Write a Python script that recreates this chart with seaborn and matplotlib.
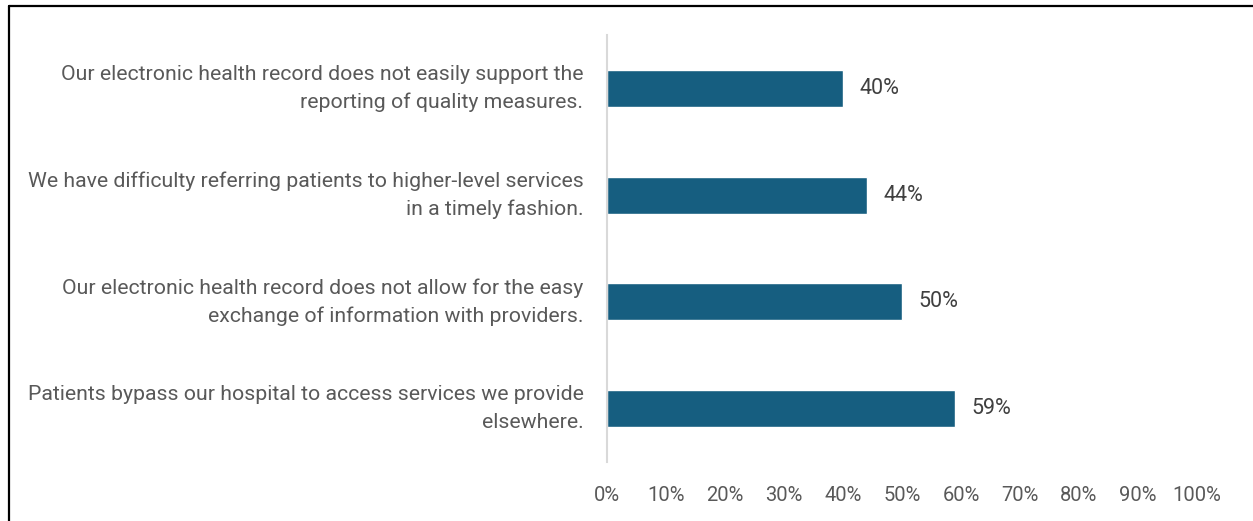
import matplotlib
matplotlib.use("Agg")
import matplotlib.pyplot as plt
from matplotlib.lines import Line2D
import seaborn as sns
import pandas as pd

categories = [
    "Our electronic health record does not easily support the\nreporting of quality measures.",
    "We have difficulty referring patients to higher-level services\nin a timely fashion.",
    "Our electronic health record does not allow for the easy\nexchange of information with providers.",
    "Patients bypass our hospital to access services we provide\nelsewhere.",
]
values = [40, 44, 50, 59]
xticks = [0, 10, 20, 30, 40, 50, 60, 70, 80, 90, 100]

BAR_COLOR = "#165E80"
LABEL_GRAY = "#595959"
VALUE_GRAY = "#404040"

sns.set_theme(style="white")
plt.rcParams["font.family"] = ["Roboto", "DejaVu Sans"]

W, H = 1253, 521
fig = plt.figure(figsize=(W / 100, H / 100), dpi=100)
ax = fig.add_axes([607 / W, 1 - 462 / H, (1197 - 607) / W, (462 - 35) / H])

df = pd.DataFrame({"category": categories, "value": values})
sns.barplot(data=df, x="value", y="category", orient="h", color=BAR_COLOR,
            width=0.345, saturation=1, ax=ax)

ax.set_xlim(0, 100)
ax.set_xticks(xticks)
ax.set_xticklabels([f"{t}%" for t in xticks], color=LABEL_GRAY, fontsize=14.5)
ax.set_xlabel("")
ax.set_ylabel("")
ax.tick_params(axis="y", length=0, pad=17, labelsize=15.3, labelcolor=LABEL_GRAY)
ax.tick_params(axis="x", length=0, pad=17)
for lbl in ax.get_yticklabels():
    lbl.set_horizontalalignment("right")
    lbl.set_verticalalignment("center")
    lbl.set_multialignment("right")
    lbl.set_linespacing(1.55)

for s in ["top", "right", "bottom"]:
    ax.spines[s].set_visible(False)
ax.spines["left"].set_color("#D9D9D9")
ax.spines["left"].set_linewidth(1.5)

for i, v in enumerate(values):
    ax.text(v + 2.8, i, f"{v}%", va="center", ha="left", fontsize=15.5, color=VALUE_GRAY)

# frame edges of the surrounding box
fig.add_artist(Line2D([8.5 / W, 8.5 / W], [0, 1 - 6 / H], color="black", lw=1.6,
                      transform=fig.transFigure))
fig.add_artist(Line2D([8.5 / W, 1], [1 - 6 / H, 1 - 6 / H], color="black", lw=1.6,
                      transform=fig.transFigure))

fig.savefig("out.png", dpi=100, facecolor="white")
